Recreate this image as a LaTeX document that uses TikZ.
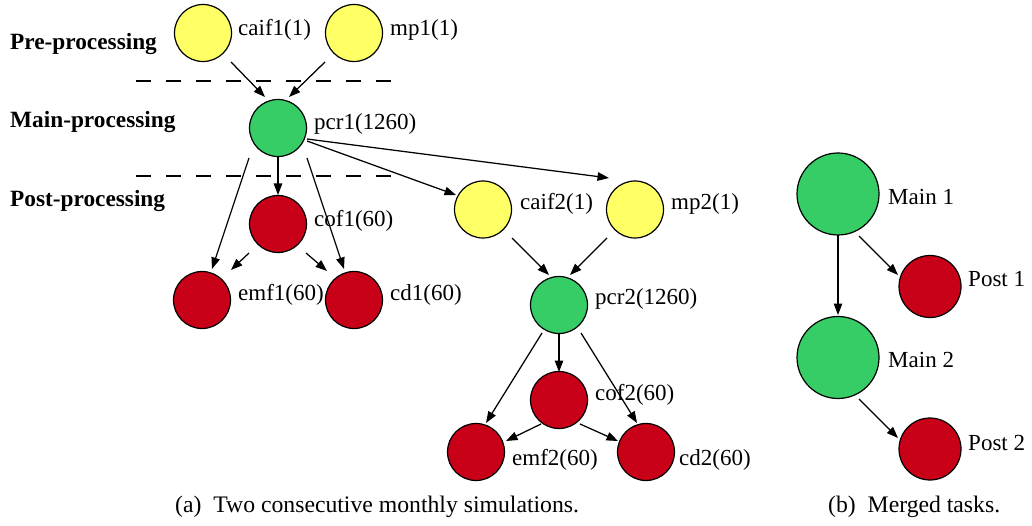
\documentclass[tikz,border=0pt]{standalone}
\usepackage{fontspec}
\setmainfont{Liberation Serif}
\usetikzlibrary{arrows.meta}
\definecolor{yel}{RGB}{255,255,102}
\definecolor{grn}{RGB}{54,204,102}
\definecolor{rd}{RGB}{200,0,24}
\begin{document}
\begin{tikzpicture}[x=1pt,y=-1pt,
  font=\fontsize{23}{27}\selectfont,
  task/.style={circle, draw=black, line width=1.2pt, minimum size=57pt, inner sep=0pt},
  pre/.style={task, fill=yel},
  mainp/.style={task, fill=grn},
  post/.style={task, fill=rd},
  bigm/.style={mainp, minimum size=82pt},
  bigp/.style={post, minimum size=62pt},
  lbl/.style={anchor=base west, inner sep=0pt},
  captext/.style={lbl, font=\fontsize{23.7}{27}\selectfont},
  stage/.style={anchor=base west, inner sep=0pt, font=\fontsize{23.3}{27}\selectfont\bfseries},
  edge/.style={line width=1.25pt, -{Triangle[length=11.5pt,width=8.5pt]}},
  sep/.style={line width=1.2pt, dash pattern=on 15pt off 15pt}]
\useasboundingbox (0,0) rectangle (1032,526);

% stage labels and separators
\node[stage] (spre) at (10,50) {Pre-processing};
\node[stage] (smain) at (10,128) {Main-processing};
\node[stage] (spost) at (10,207) {Post-processing};
\draw[sep] (136,81) -- (393,81);
\draw[sep] (136,176) -- (393,176);

% (a) first month
\node[pre] (caif1) at (203,33) {};
\node[pre] (mp1) at (354,33) {};
\node[mainp] (pcr1) at (278,128) {};
\node[post] (cof1) at (278,224) {};
\node[post] (emf1) at (202,300) {};
\node[post] (cd1) at (354,300) {};
% second month
\node[pre] (caif2) at (483,209.5) {};
\node[pre] (mp2) at (635,209.5) {};
\node[mainp] (pcr2) at (559,305) {};
\node[post] (cof2) at (559,400) {};
\node[post] (emf2) at (476,452) {};
\node[post] (cd2) at (646,452) {};

\node[lbl] (caif1l) at (238,35.5) {caif1(1)};
\node[lbl] (mp1l) at (390,35.5) {mp1(1)};
\node[lbl] (pcr1l) at (314,129.5) {pcr1(1260)};
\node[lbl] (cof1l) at (314,226.5) {cof1(60)};
\node[lbl] (emf1l) at (238,300.5) {emf1(60)};
\node[lbl] (cd1l) at (390,300.5) {cd1(60)};
\node[lbl] (caif2l) at (520,210) {caif2(1)};
\node[lbl] (mp2l) at (671,210) {mp2(1)};
\node[lbl] (pcr2l) at (595,305) {pcr2(1260)};
\node[lbl] (cof2l) at (595,400.5) {cof2(60)};
\node[lbl] (emf2l) at (512,465.5) {emf2(60)};
\node[lbl] (cd2l) at (679,465.5) {cd2(60)};

\draw[edge] ([shift={(28,29)}]caif1.center) -- ([shift={(-13,-31)}]pcr1.center);
\draw[edge] ([shift={(-29,29)}]mp1.center) -- ([shift={(11,-31)}]pcr1.center);
\draw[edge] ([shift={(0,29)}]pcr1.center) -- ([shift={(0,-29)}]cof1.center);
\draw[edge] ([shift={(-29,30)}]pcr1.center) -- ([shift={(10,-31)}]emf1.center);
\draw[edge] ([shift={(29,30)}]pcr1.center) -- ([shift={(-10,-31)}]cd1.center);
\draw[edge] ([shift={(-29,29)}]cof1.center) -- ([shift={(29,-30)}]emf1.center);
\draw[edge] ([shift={(28,29)}]cof1.center) -- ([shift={(-27,-29)}]cd1.center);
\draw[edge] ([shift={(29,13)}]pcr1.center) -- ([shift={(-27,-14.5)}]caif2.center);
\draw[edge] ([shift={(29,11)}]pcr1.center) -- ([shift={(-26,-31.5)}]mp2.center);
\draw[edge] ([shift={(29,28.5)}]caif2.center) -- ([shift={(-10,-30)}]pcr2.center);
\draw[edge] ([shift={(-28,28.5)}]mp2.center) -- ([shift={(11,-30)}]pcr2.center);
\draw[edge] ([shift={(0,28)}]pcr2.center) -- ([shift={(0,-28)}]cof2.center);
\draw[edge] ([shift={(-17,28)}]pcr2.center) -- ([shift={(10,-29)}]emf2.center);
\draw[edge] ([shift={(22,28)}]pcr2.center) -- ([shift={(-9,-29)}]cd2.center);
\draw[edge] ([shift={(-18,24)}]cof2.center) -- ([shift={(30,-11)}]emf2.center);
\draw[edge] ([shift={(21,24)}]cof2.center) -- ([shift={(-28,-11)}]cd2.center);

% (b) merged tasks
\node[bigm] (m1) at (838,194) {};
\node[bigp] (p1) at (930,286.5) {};
\node[bigm] (m2) at (838,357.5) {};
\node[bigp] (p2) at (930,449) {};
\node[lbl] (m1l) at (888,205) {Main 1};
\node[lbl] (p1l) at (968,287) {Post 1};
\node[lbl] (m2l) at (888,367) {Main 2};
\node[lbl] (p2l) at (968,450) {Post 2};
\draw[edge] ([shift={(0,41)}]m1.center) -- ([shift={(0,-42.5)}]m2.center);
\draw[edge] ([shift={(21,42)}]m1.center) -- ([shift={(-32,-11.5)}]p1.center);
\draw[edge] ([shift={(21,41.5)}]m2.center) -- ([shift={(-32,-11)}]p2.center);

% captions
\node[captext] (capa) at (175,512.5) {(a)\hspace{0.5em}Two consecutive monthly simulations.};
\node[captext] (capb) at (828,512.5) {(b)\hspace{0.5em}Merged tasks.};
\end{tikzpicture}
\end{document}
